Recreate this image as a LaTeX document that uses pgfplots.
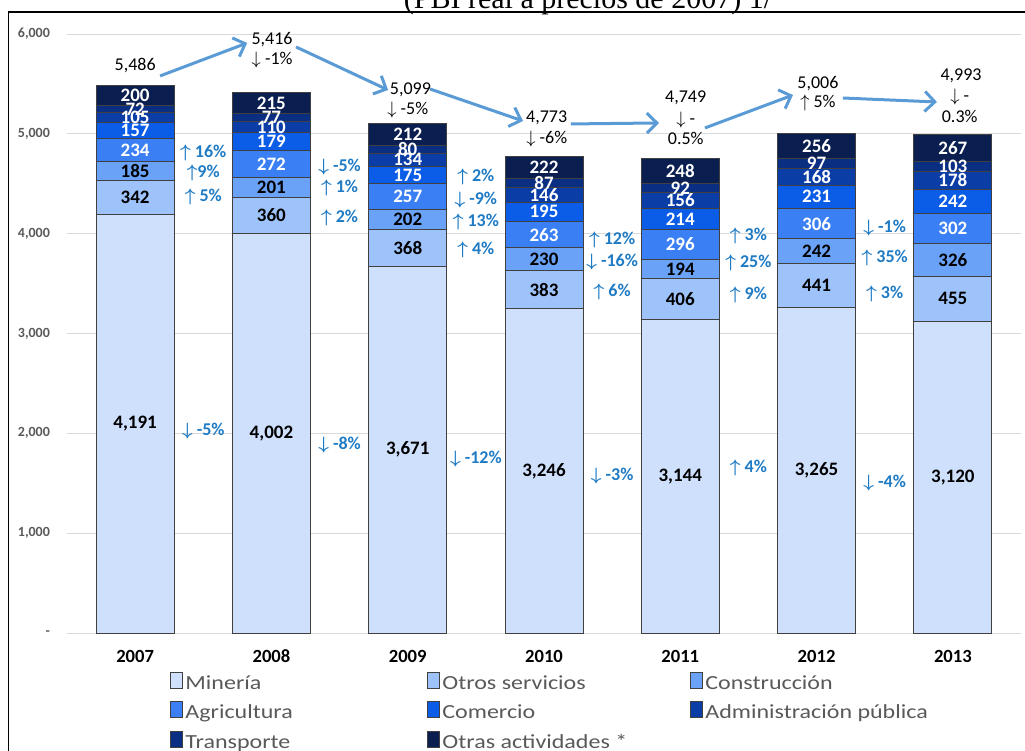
\documentclass[border=0pt]{standalone}
\usepackage{pgfplots}
\pgfplotsset{compat=1.18}
\usepackage{amsmath}
\usepackage{fontspec}
\setmainfont{Carlito}
\newfontfamily\timesfont{Liberation Serif}
\newfontfamily\legfont[FakeStretch=1.2]{Carlito}
\usetikzlibrary{arrows.meta}
\definecolor{cMin}{HTML}{CFE0FD}
\definecolor{cOtr}{HTML}{9EC2FA}
\definecolor{cCon}{HTML}{6AA2F7}
\definecolor{cAgr}{HTML}{3A80F4}
\definecolor{cCom}{HTML}{0B5CE6}
\definecolor{cAdm}{HTML}{0A3DA6}
\definecolor{cTra}{HTML}{0A2E82}
\definecolor{cOta}{HTML}{0A1F50}
\definecolor{pctblue}{HTML}{1F7BC4}
\definecolor{arrblue}{HTML}{5B9BD5}
\definecolor{txtgray}{HTML}{595959}
\newcommand{\up}{$\boldsymbol{\uparrow}$}
\newcommand{\dn}{$\boldsymbol{\downarrow}$}
\newcommand{\tup}{$\uparrow$}
\newcommand{\tdn}{$\downarrow$}
\pgfplotsset{
  /pgfplots/ybar legend/.style={/pgfplots/legend image code/.code={\draw[##1, draw=black!60, line width=0.4pt] (0pt,-3.6pt) rectangle (7.2pt,3.6pt);}},
  mylab/.style={nodes near coords, point meta=rawy,
    every node near coord/.append style={anchor=center, font=\bfseries\fontsize{9.5}{10}\selectfont, text=#1}},
}
\tikzset{
  pct/.style={font=\bfseries\fontsize{9}{10}\selectfont, text=pctblue, anchor=center},
  tot/.style={font=\fontsize{9}{10}\selectfont, text=black, anchor=center},
  tarr/.style={draw=arrblue, line width=1.5pt, -{Straight Barb[length=5pt,width=10pt]}}
}
\begin{document}
\begin{tikzpicture}
\begin{axis}[
  at={(33.5pt,59pt)}, anchor=south west,
  scale only axis, width=477pt, height=299.5pt,
  xmin=-0.5, xmax=6.5, ymin=0, ymax=6000,
  ybar stacked, bar width=39pt,
  clip=false,
  xtick={0,1,2,3,4,5,6}, xticklabels={2007,2008,2009,2010,2011,2012,2013},
  ytick={1000,2000,3000,4000,5000,6000},
  yticklabels={{1,000},{2,000},{3,000},{4,000},{5,000},{6,000}},
  extra y ticks={0}, extra y tick labels={-\hspace{5pt}},
  extra y tick style={grid style={draw=black!70, line width=0.6pt}},
  ymajorgrids, major grid style={draw=black!15, line width=0.5pt},
  axis line style={draw=none}, tick style={draw=none},
  yticklabel style={font=\bfseries\fontsize{7}{8}\selectfont, text=txtgray, xshift=-5pt},
  xticklabel style={font=\bfseries\fontsize{9.3}{10}\selectfont, text=black, yshift=-5pt},
  every axis plot/.append style={draw=black!75, line width=0.5pt},
  /pgf/number format/1000 sep={,},
  /pgf/number format/assume math mode=true,
  legend columns=3, legend cell align=left,
  legend style={at={(0.108,-0.064)}, anchor=north west, draw=none, fill=none,
    font=\legfont\fontsize{10}{11}\selectfont, text=txtgray, inner sep=0pt, row sep=3pt,
    nodes={inner sep=1pt, text height=7pt, text depth=2pt}},
]
\addplot[fill=cMin, mylab=black] coordinates {(0,4191)(1,4002)(2,3671)(3,3246)(4,3144)(5,3265)(6,3120)};
\addlegendentry{\makebox[120pt][l]{Minería}}
\addplot[fill=cOtr, mylab=black] coordinates {(0,342)(1,360)(2,368)(3,383)(4,406)(5,441)(6,455)};
\addlegendentry{\makebox[123pt][l]{Otros servicios}}
\addplot[fill=cCon, mylab=black] coordinates {(0,185)(1,201)(2,202)(3,230)(4,194)(5,242)(6,326)};
\addlegendentry{\makebox[120pt][l]{Construcción}}
\addplot[fill=cAgr, mylab=white] coordinates {(0,234)(1,272)(2,257)(3,263)(4,296)(5,306)(6,302)};
\addlegendentry{\makebox[120pt][l]{Agricultura}}
\addplot[fill=cCom, mylab=white] coordinates {(0,157)(1,179)(2,175)(3,195)(4,214)(5,231)(6,242)};
\addlegendentry{\makebox[123pt][l]{Comercio}}
\addplot[fill=cAdm, mylab=white] coordinates {(0,105)(1,110)(2,134)(3,146)(4,156)(5,168)(6,178)};
\addlegendentry{\makebox[120pt][l]{Administración pública}}
\addplot[fill=cTra, mylab=white] coordinates {(0,72)(1,77)(2,80)(3,87)(4,92)(5,97)(6,103)};
\addlegendentry{\makebox[120pt][l]{Transporte}}
\addplot[fill=cOta, mylab=white] coordinates {(0,200)(1,215)(2,212)(3,222)(4,248)(5,256)(6,267)};
\addlegendentry{\makebox[123pt][l]{Otras actividades *}}

% growth annotations
\node[pct] at (axis cs:0.5,4809) {\up\ 16\%};
\node[pct] at (axis cs:0.5,4611) {\up9\%};
\node[pct] at (axis cs:0.5,4370) {\up\ 5\%};
\node[pct] at (axis cs:0.5,2027) {\dn\ -5\%};
\node[pct] at (axis cs:1.5,4671) {\dn\ -5\%};
\node[pct] at (axis cs:1.5,4458) {\up\ 1\%};
\node[pct] at (axis cs:1.5,4157) {\up\ 2\%};
\node[pct] at (axis cs:1.5,1883) {\dn\ -8\%};
\node[pct] at (axis cs:2.5,4565) {\up\ 2\%};
\node[pct] at (axis cs:2.5,4337) {\dn\ -9\%};
\node[pct] at (axis cs:2.5,4120) {\up\ 13\%};
\node[pct] at (axis cs:2.5,3837) {\up\ 4\%};
\node[pct] at (axis cs:2.5,1740) {\dn\ -12\%};
\node[pct] at (axis cs:3.5,3937) {\up\ 12\%};
\node[pct] at (axis cs:3.5,3713) {\dn\ -16\%};
\node[pct] at (axis cs:3.5,3419) {\up\ 6\%};
\node[pct] at (axis cs:3.5,1573) {\dn\ -3\%};
\node[pct] at (axis cs:4.5,3977) {\up\ 3\%};
\node[pct] at (axis cs:4.5,3710) {\up\ 25\%};
\node[pct] at (axis cs:4.5,3386) {\up\ 9\%};
\node[pct] at (axis cs:4.5,1653) {\up\ 4\%};
\node[pct] at (axis cs:5.5,4054) {\dn\ -1\%};
\node[pct] at (axis cs:5.5,3753) {\up\ 35\%};
\node[pct] at (axis cs:5.5,3393) {\up\ 3\%};
\node[pct] at (axis cs:5.5,1506) {\dn\ -4\%};

% totals
\node[tot] at (axis cs:0,5680) {5,486};
\node[tot] at (axis cs:1.005,5940) {5,416};
\node[tot] at (axis cs:1.005,5740) {\tdn\ -1\%};
\node[tot] at (axis cs:2.02,5446) {5,099};
\node[tot] at (axis cs:2.0,5239) {\tdn\ -5\%};
\node[tot] at (axis cs:3.02,5156) {4,773};
\node[tot] at (axis cs:3.02,4945) {\tdn\ -6\%};
\node[tot] at (axis cs:4.04,5356) {4,749};
\node[tot] at (axis cs:4.04,5139) {\tdn\ -};
\node[tot] at (axis cs:4.04,4955) {0.5\%};
\node[tot] at (axis cs:5.01,5506) {5,006};
\node[tot] at (axis cs:5.01,5306) {\tup\ 5\%};
\node[tot] at (axis cs:6.06,5583) {4,993};
\node[tot] at (axis cs:6.05,5373) {\tdn\ -};
\node[tot] at (axis cs:6.05,5179) {0.3\%};

% trend arrows
\draw[tarr] (axis cs:0.183,5580) -- (axis cs:0.822,5910);
\draw[tarr] (axis cs:1.181,5870) -- (axis cs:1.856,5439);
\draw[tarr] (axis cs:2.164,5449) -- (axis cs:2.846,5129);
\draw[tarr] (axis cs:3.198,5099) -- (axis cs:3.844,5109);
\draw[tarr] (axis cs:4.181,5059) -- (axis cs:4.827,5389);
\draw[tarr] (axis cs:5.193,5359) -- (axis cs:5.883,5319);
\end{axis}
\node[anchor=base, font=\timesfont\fontsize{15}{18}\selectfont] at (294pt,371pt) {(PBI real a precios de 2007) 1/};
\draw[line width=0.8pt] (4.25pt,-2pt) -- (4.25pt,369.5pt) -- (516pt,369.5pt);
\pgfresetboundingbox
\useasboundingbox (0,0) rectangle (512.5pt,375.5pt);
\end{tikzpicture}
\end{document}
